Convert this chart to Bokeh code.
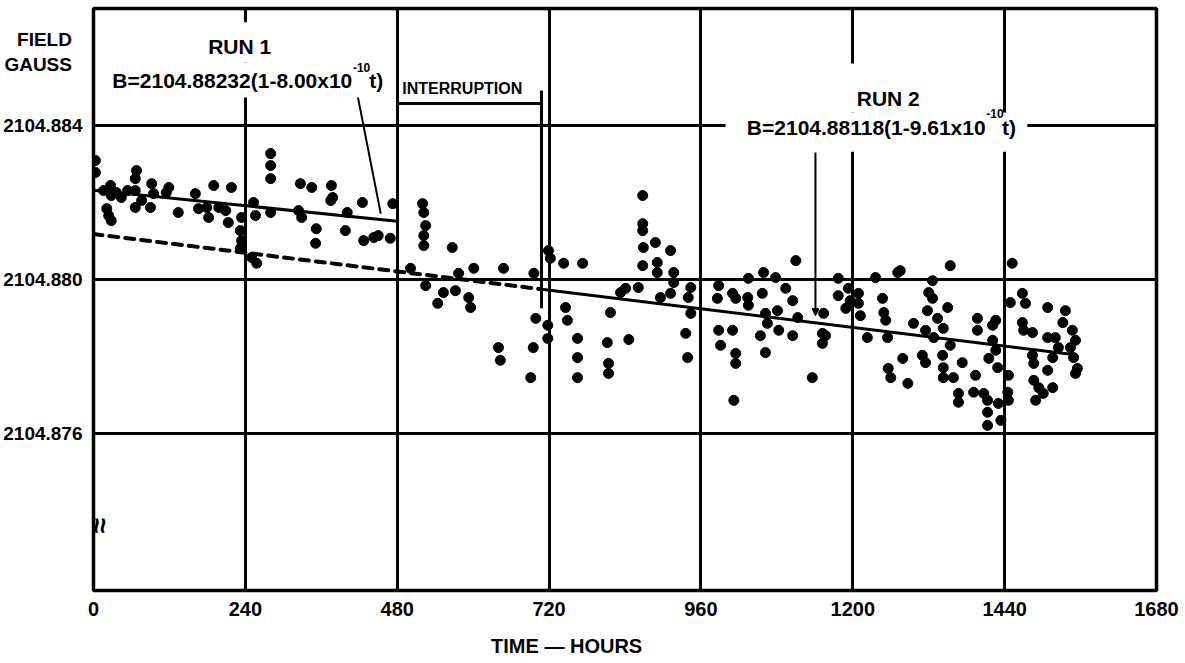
from bokeh.plotting import figure
from bokeh.models import (FixedTicker, Label, BoxAnnotation, Arrow, NormalHead,
                          Range1d, CustomJSTickFormatter)
from bokeh.embed import file_html
from bokeh.resources import INLINE

# ---------------------------------------------------------------- data
x_ticks = [0, 240, 480, 720, 960, 1200, 1440, 1680]
y_ticks = [2104.876, 2104.880, 2104.884]
y_title = "FIELD\nGAUSS"
x_title = "TIME \u2014 HOURS"

# Run 1 measurements (hours, gauss)
run1_hours = [3, 3, 16, 27, 28, 21, 24, 28, 36, 44, 54, 68, 66, 66, 66, 76, 92, 95, 90,
              119, 115, 134, 161, 166, 179, 182, 190, 218, 209, 213, 198, 232, 234,
              234, 232, 253, 256, 280, 280, 280, 280, 250, 258, 327, 345, 324, 329,
              352, 351, 376, 375, 378, 425, 401, 398, 427, 443, 450, 473, 469]
run1_field = [2104.88309, 2104.88278, 2104.88231, 2104.88244, 2104.88218, 2104.88184,
              2104.88166, 2104.88153, 2104.88226, 2104.88213, 2104.88231, 2104.88283,
              2104.88262, 2104.88231, 2104.88187, 2104.88205, 2104.88249, 2104.88223,
              2104.88187, 2104.88239, 2104.88226, 2104.88174, 2104.88223, 2104.88184,
              2104.88187, 2104.88161, 2104.88244, 2104.88239, 2104.88179, 2104.88148,
              2104.88187, 2104.88127, 2104.88161, 2104.88101, 2104.88081, 2104.88200,
              2104.88166, 2104.88327, 2104.88296, 2104.88262, 2104.88174, 2104.88057,
              2104.88042, 2104.88249, 2104.88239, 2104.88179, 2104.88161, 2104.88132,
              2104.88094, 2104.88244, 2104.88205, 2104.88213, 2104.88200, 2104.88174,
              2104.88127, 2104.88101, 2104.88109, 2104.88114, 2104.88197, 2104.88107]

# readings taken during the interruption
gap_hours = [520, 522, 525, 522, 522, 567, 501, 525, 544, 553, 572, 577, 593, 596, 601,
             648, 696, 640, 643, 691, 695, 699]
gap_field = [2104.88197, 2104.88174, 2104.88140, 2104.88114, 2104.88088, 2104.88083,
             2104.88029, 2104.87984, 2104.87938, 2104.87966, 2104.87971, 2104.88016,
             2104.87953, 2104.87927, 2104.88029, 2104.88029, 2104.88016, 2104.87823,
             2104.87790, 2104.87745, 2104.87823, 2104.87899]

# Run 2 measurements (hours, gauss)
run2_hours = [718, 718, 719, 722, 743, 746, 749, 765, 765, 765, 773,
              868, 868, 868, 869, 888, 912, 868, 891, 891, 917, 917, 861, 841, 833, 896,
              912, 944, 940, 944, 817, 812, 846, 814, 814, 936, 939,
              988, 986, 988, 991, 1010, 1015, 1010, 1015, 1015, 1012, 1034, 1035, 1035,
              1059, 1078, 1057, 1094, 1105, 1110, 1062, 1065, 1054, 1062, 1081, 1083,
              1105, 1113, 1136, 1154, 1152, 1152,
              1177, 1177, 1193, 1196, 1189, 1209, 1209, 1212, 1157, 1223, 1236, 1247,
              1249, 1252, 1255, 1271, 1275, 1296, 1315, 1320, 1326, 1318, 1334, 1328,
              1350, 1343, 1354, 1326, 1279, 1256, 1260, 1287, 1310, 1315, 1342, 1343,
              1343, 1359, 1354, 1373, 1394, 1367, 1367, 1391, 1407, 1413, 1413, 1413,
              1430, 1434, 1397, 1397, 1421, 1426, 1421, 1426, 1415, 1429, 1446, 1445,
              1446, 1452, 1449, 1468, 1473, 1468, 1484, 1508, 1536, 1532, 1508, 1520,
              1547, 1552, 1544, 1525, 1516, 1549, 1555, 1484, 1486, 1508, 1486, 1494,
              1516, 1501, 1489, 1552, 1470]
run2_field = [2104.87881, 2104.87847, 2104.88075, 2104.88055, 2104.88042, 2104.87927,
              2104.87894, 2104.87847, 2104.87797, 2104.87745, 2104.88042,
              2104.88218, 2104.88145, 2104.88127, 2104.88083, 2104.88096, 2104.88075,
              2104.88036, 2104.88044, 2104.88018, 2104.88018, 2104.87992, 2104.87979,
              2104.87977, 2104.87966, 2104.87953, 2104.87964, 2104.87979, 2104.87953,
              2104.87912, 2104.87914, 2104.87836, 2104.87844, 2104.87782, 2104.87756,
              2104.87860, 2104.87797,
              2104.87984, 2104.87951, 2104.87868, 2104.87829, 2104.87964, 2104.87951,
              2104.87868, 2104.87808, 2104.87782, 2104.87686, 2104.87953, 2104.87933,
              2104.88003, 2104.88018, 2104.88005, 2104.87964, 2104.87977, 2104.87945,
              2104.88049, 2104.87912, 2104.87886, 2104.87854, 2104.87810, 2104.87919,
              2104.87868, 2104.87854, 2104.87901, 2104.87745, 2104.87912, 2104.87860,
              2104.87834,
              2104.88003, 2104.87958, 2104.87977, 2104.87945, 2104.87925, 2104.87964,
              2104.87938, 2104.87906, 2104.87854, 2104.87849, 2104.88005, 2104.87951,
              2104.87914, 2104.87894, 2104.87849, 2104.88018, 2104.88023, 2104.87886,
              2104.87868, 2104.87966, 2104.87951, 2104.87919, 2104.87899, 2104.87849,
              2104.87927, 2104.87873, 2104.88036, 2104.87997, 2104.87795, 2104.87769,
              2104.87745, 2104.87730, 2104.87803, 2104.87784, 2104.87803, 2104.87771,
              2104.87745, 2104.87745, 2104.87829, 2104.87784, 2104.87751, 2104.87704,
              2104.87681, 2104.87707, 2104.87704, 2104.87686, 2104.87655, 2104.87621,
              2104.87678, 2104.87634, 2104.87899, 2104.87868, 2104.87881, 2104.87894,
              2104.87842, 2104.87816, 2104.87795, 2104.87771, 2104.87751, 2104.87707,
              2104.87686, 2104.88042, 2104.87940, 2104.87964, 2104.87938, 2104.87888,
              2104.87862, 2104.87927, 2104.87919, 2104.87888, 2104.87849, 2104.87849,
              2104.87868, 2104.87842, 2104.87823, 2104.87823, 2104.87797, 2104.87797,
              2104.87769, 2104.87803, 2104.87782, 2104.87764, 2104.87738, 2104.87719,
              2104.87719, 2104.87704, 2104.87686, 2104.87756, 2104.87868]

# least-squares fits  B = B0 (1 - k t)
run1_b0, run1_k = 2104.88232, 8.00e-10
run2_b0, run2_k = 2104.88118, 9.61e-10
run1_span = [0, 480]
interruption = [480, 708]
run2_span = [708, 1545]

# ---------------------------------------------------------------- figure
FONT = "Liberation Sans"
NBSP = "\u00a0"

p = figure(width=1185, height=663,
           x_range=Range1d(0, 1680), y_range=Range1d(2104.87192, 2104.88704),
           output_backend="svg", toolbar_location=None,
           min_border_left=93, min_border_right=29,
           min_border_top=8, min_border_bottom=73)
p.background_fill_color = "white"
p.border_fill_color = "white"
p.outline_line_color = "black"
p.outline_line_width = 3.5

for ax in (p.xaxis[0], p.yaxis[0]):
    ax.axis_line_color = None
    ax.major_tick_line_color = None
    ax.minor_tick_line_color = None
    ax.major_label_text_font = FONT
    ax.major_label_text_font_style = "bold"
    ax.major_label_text_color = "black"

p.xaxis.ticker = FixedTicker(ticks=x_ticks)
p.xaxis.major_label_text_font_size = "20px"
p.xaxis.major_label_standoff = 5
# the title sits left of the frame centre; trailing no-break spaces shift it over
p.xaxis.axis_label = x_title + NBSP * 21
p.xaxis.axis_label_text_font = FONT
p.xaxis.axis_label_text_font_style = "bold"
p.xaxis.axis_label_text_font_size = "20px"
p.xaxis.axis_label_text_color = "black"
p.xaxis.axis_label_standoff = 16

# the y axis also carries its two-line title, set at the top of the scale
title_tick = 2104.88592
title_lines = [ln + NBSP * 2 for ln in y_title.split("\n")]
p.yaxis.ticker = FixedTicker(ticks=y_ticks + [title_tick])
p.yaxis.formatter = CustomJSTickFormatter(
    args=dict(title_tick=title_tick, title="\n".join(title_lines)),
    code="return Math.abs(tick - title_tick) < 1e-7 ? title : tick.toFixed(3);")
p.yaxis.major_label_text_font_size = "19px"
p.yaxis.major_label_standoff = 5

p.xgrid.ticker = FixedTicker(ticks=x_ticks)
p.ygrid.ticker = FixedTicker(ticks=y_ticks)
for g in (p.xgrid[0], p.ygrid[0]):
    g.grid_line_color = "black"
    g.grid_line_width = 3
    g.grid_line_alpha = 1.0

# measurements
for hrs, fld in ((run1_hours, run1_field), (gap_hours, gap_field), (run2_hours, run2_field)):
    p.scatter(hrs, fld, size=10, color="black")

# fitted lines
def fit(b0, k, t):
    return [b0 * (1 - k * v) for v in t]

p.line(run1_span, fit(run1_b0, run1_k, run1_span), line_color="black", line_width=3)
run2_back = [0, run2_span[0]]
p.line(run2_back, fit(run2_b0, run2_k, run2_back), line_color="black", line_width=4,
       line_dash="9 7", line_cap="round")
p.line(run2_span, fit(run2_b0, run2_k, run2_span), line_color="black", line_width=3)

# interruption bracket
bracket_y = 2104.88457
p.line(interruption, [bracket_y, bracket_y], line_color="black", line_width=3)
p.line([interruption[1], interruption[1]], [2104.88491, 2104.87925],
       line_color="black", line_width=3)

# leader from the run 1 equation to its line
p.line([417, 454], [2104.88481, 2104.88171], line_color="black", line_width=2)

# clear the grid behind the run captions
for left, right, bottom, top in ((177, 288, 2104.88564, 2104.88668),
                                 (17, 473, 2104.88473, 2104.88564),
                                 (1193, 1320, 2104.88434, 2104.88561),
                                 (999, 1476, 2104.88332, 2104.88434)):
    p.add_layout(BoxAnnotation(left=left, right=right, bottom=bottom, top=top,
                               fill_color="white", fill_alpha=1.0, line_color=None))

# leader from the run 2 equation to its line
p.add_layout(Arrow(end=NormalHead(size=7, fill_color="black", line_color="black"),
                   x_start=1141, y_start=2104.88330, x_end=1141, y_end=2104.87906,
                   line_color="black", line_width=2))


def label(x, y, text, size="21px", align="center", baseline="middle", **kw):
    p.add_layout(Label(x=x, y=y, text=text, text_font=FONT, text_font_style="bold",
                       text_font_size=size, text_color="black",
                       text_align=align, text_baseline=baseline, **kw))


label(231, 2104.88605, "RUN 1")
label(409, 2104.88517, "B=2104.88232(1-8.00x10", align="right")
label(410, 2104.88550, "-10", size="12px", align="left")
label(436, 2104.88517, "t)", align="left")

label(1256, 2104.88470, "RUN 2")
label(1410, 2104.88395, "B=2104.88118(1-9.61x10", align="right")
label(1411, 2104.88430, "-10", size="12px", align="left")
label(1436, 2104.88395, "t)", align="left")

label(488, 2104.88496, "INTERRUPTION", size="16px", align="left")

# axis break mark
label(10, 2104.87360, "\u2248", size="28px", angle=1.5708)

open("out.html", "w").write(file_html(p, INLINE))
